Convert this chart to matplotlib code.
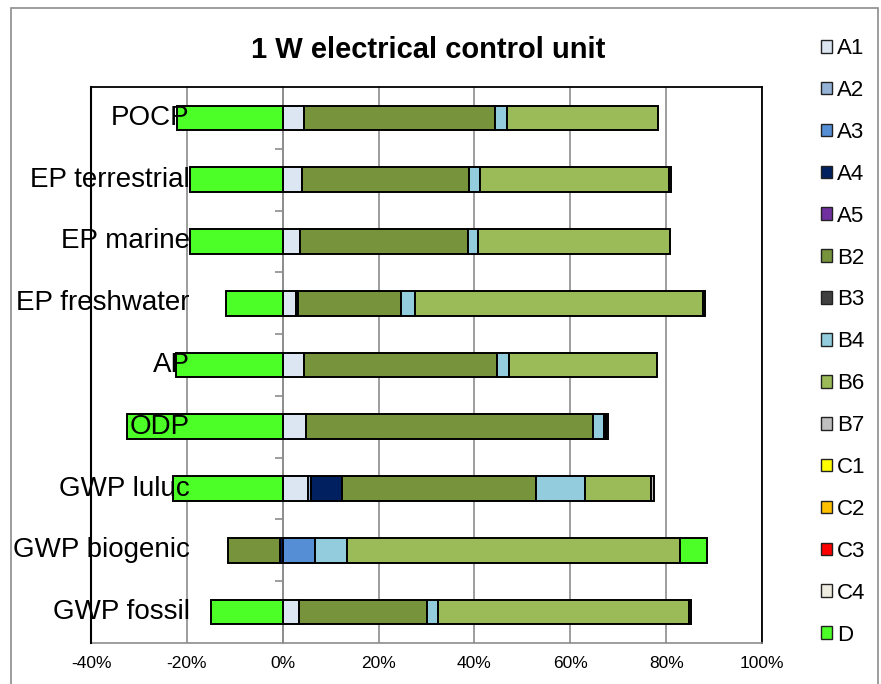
import numpy as np
import matplotlib
matplotlib.use("Agg")
import matplotlib.pyplot as plt
from matplotlib.patches import Patch, Rectangle

plt.rcParams['font.family'] = ['Liberation Sans', 'DejaVu Sans']

title = "1 W electrical control unit"
categories = ["POCP", "EP terrestrial", "EP marine", "EP freshwater", "AP",
              "ODP", "GWP luluc", "GWP biogenic", "GWP fossil"]

series_names = ["A1", "A2", "A3", "A4", "A5", "B2", "B3", "B4", "B6", "B7",
                "C1", "C2", "C3", "C4", "D"]

A1 = [4.4, 4.0, 3.6, 2.8, 4.5, 4.9, 5.2, 0.0, 3.4]
A2 = [0, 0, 0, 0, 0, 0, 0.6, 0, 0]
A3 = [0, 0, 0, 0, 0, 0, 0, 6.8, 0]
A4 = [0, 0, 0, 0.3, 0, 0, 6.6, -0.6, 0]
A5 = [0, 0, 0, 0, 0, 0, 0, 0, 0]
B2 = [39.8, 34.9, 35.0, 21.5, 40.2, 59.8, 40.4, -10.9, 26.8]
B3 = [0, 0, 0, 0, 0, 0, 0, 0, 0]
B4 = [2.6, 2.3, 2.1, 3.1, 2.5, 2.4, 10.3, 6.7, 2.2]
B6 = [31.4, 39.4, 40.1, 59.9, 30.8, 0.4, 13.8, 69.4, 52.4]
B7 = [0, 0.4, 0, 0, 0, 0.4, 0.5, 0, 0.4]
C1 = [0, 0, 0, 0, 0, 0, 0, 0, 0]
C2 = [0, 0, 0, 0, 0, 0, 0, 0, 0]
C3 = [0, 0, 0, 0, 0, 0, 0, 0, 0]
C4 = [0, 0, 0, 0.6, 0, 0, 0, 0, 0]
D = [-22.1, -19.3, -19.3, -11.9, -22.3, -32.5, -22.9, 5.7, -14.9]

series_values = [A1, A2, A3, A4, A5, B2, B3, B4, B6, B7, C1, C2, C3, C4, D]
colors = ["#DCE6F2", "#95B3D7", "#558ED5", "#002060", "#7030A0", "#77933C",
          "#404040", "#93CDDD", "#9BBB59", "#BFBFBF", "#FFFF00", "#FFC000",
          "#FF0000", "#EEECE1", "#4CFF26"]

xticks = [-40, -20, 0, 20, 40, 60, 80, 100]
xtick_labels = ["-40%", "-20%", "0%", "20%", "40%", "60%", "80%", "100%"]

W, H = 881, 684
fig = plt.figure(figsize=(W / 100, H / 100), dpi=100)
ax = fig.add_axes([91 / W, 1 - 643 / H, (762 - 91) / W, (643 - 87) / H])

y = np.arange(len(categories))
pos = np.zeros(len(categories))
neg = np.zeros(len(categories))
for name, vals, col in zip(series_names, series_values, colors):
    v = np.array(vals, dtype=float)
    left = np.where(v >= 0, pos, neg)
    idx = np.nonzero(v)[0]
    if len(idx):
        ax.barh(y[idx], v[idx], left=left[idx], height=0.4, color=col,
                edgecolor="black", linewidth=1.4, zorder=3)
    pos = pos + np.where(v > 0, v, 0)
    neg = neg + np.where(v < 0, v, 0)

ax.set_xlim(-40, 100)
ax.set_ylim(len(categories) - 0.5, -0.5)
ax.set_xticks(xticks)
ax.set_xticklabels(xtick_labels, fontsize=12.5)
ax.tick_params(axis='x', length=0, pad=9)
ax.grid(axis='x', color="#8c8c8c", linewidth=1.2, zorder=0)
ax.set_axisbelow(True)

# category axis crossing at 0 with tick marks between categories
ax.spines['left'].set_position(('data', 0))
ax.spines['left'].set_color("#8c8c8c")
ax.spines['left'].set_linewidth(1.2)
ax.set_yticks(np.arange(0.5, len(categories) - 1, 1.0))
ax.set_yticklabels([])
ax.tick_params(axis='y', length=6, width=1.2, color="#8c8c8c", direction='out')
for s in ['top', 'right']:
    ax.spines[s].set_color("black")
    ax.spines[s].set_linewidth(1.3)
ax.spines['bottom'].set_color("#8c8c8c")
ax.spines['bottom'].set_linewidth(1.2)
ax.axvline(-40, color="black", linewidth=1.5, zorder=4, clip_on=False)

for yi, cat in zip(y, categories):
    ax.text(0.147, yi, cat, transform=ax.get_yaxis_transform(), ha='right',
            va='center', fontsize=20, zorder=10)

fig.text(428 / W, 1 - 50 / H, title, ha='center', va='center',
         fontsize=21, fontweight='bold')

handles = [Patch(facecolor=c, edgecolor="#222222", linewidth=1.0) for c in colors]
fig.legend(handles, series_names, loc='upper left',
           bbox_to_anchor=(810 / W, 1 - 27 / H), frameon=False, fontsize=16,
           handlelength=0.5, handleheight=0.5, handletextpad=0.2,
           labelspacing=0.94, borderpad=0)

fig.patches.append(Rectangle((11 / W, -0.01), (878 - 11) / W, 1.01 - 8 / H,
                             transform=fig.transFigure, fill=False,
                             edgecolor="#8c8c8c", linewidth=1.2))

fig.savefig("out.png", dpi=100)
